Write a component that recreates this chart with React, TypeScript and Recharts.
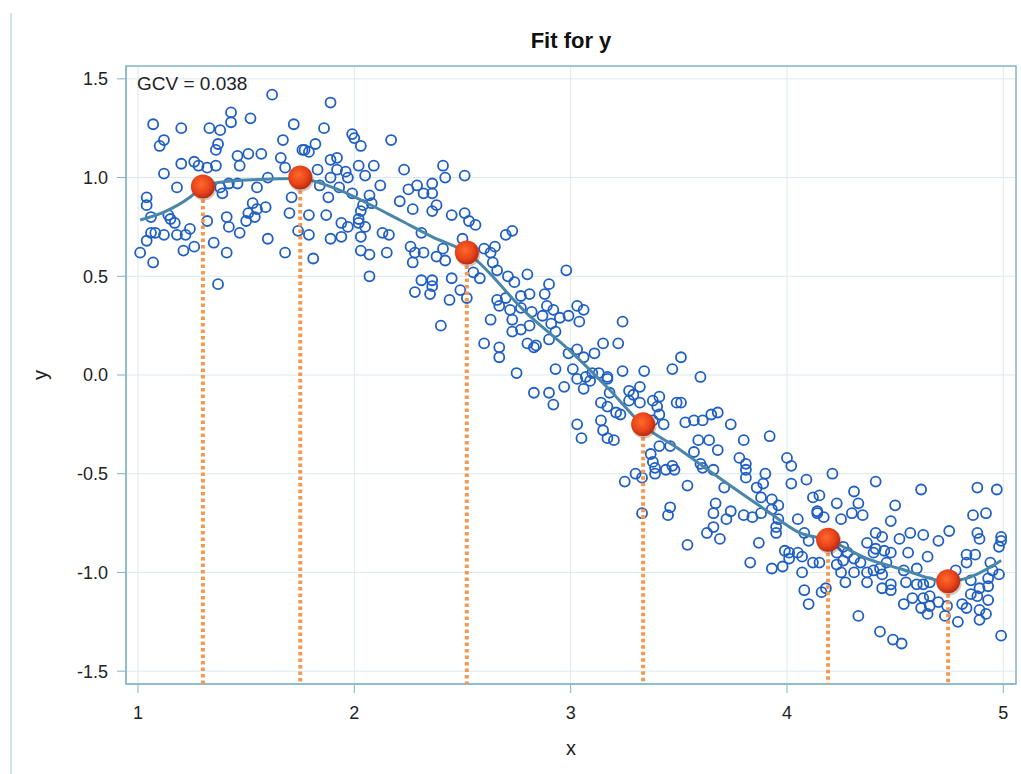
import {
  ScatterChart,
  Scatter,
  XAxis,
  YAxis,
  CartesianGrid,
  ReferenceArea,
  Label,
} from 'recharts';

// observed points (x, y)
const observed: [number, number][] = [
  [1.62, 1.42], [1.43, 1.33], [1.43, 1.28], [1.52, 1.30], [1.72, 1.27], [1.07, 1.27], [1.20, 1.25], [1.33, 1.25],
  [1.38, 1.24], [1.67, 1.19], [1.12, 1.19], [1.10, 1.16], [1.37, 1.17], [1.36, 1.14], [1.76, 1.14], [1.46, 1.11],
  [1.51, 1.12], [1.57, 1.12], [1.66, 1.10], [1.20, 1.07], [1.26, 1.08], [1.28, 1.06], [1.32, 1.05], [1.36, 1.06],
  [1.47, 1.06], [1.68, 1.05], [1.12, 1.02], [1.60, 1.00], [1.18, 0.95], [1.38, 0.95], [1.42, 0.97], [1.46, 0.97],
  [1.55, 0.95], [1.39, 0.92], [1.71, 0.90], [1.04, 0.90], [1.04, 0.86], [1.53, 0.87], [1.59, 0.85], [1.55, 0.84],
  [1.51, 0.82], [1.14, 0.81], [1.06, 0.80], [1.70, 0.82], [1.41, 0.80], [1.54, 0.80], [1.15, 0.79], [1.17, 0.77],
  [1.42, 0.75], [1.50, 0.78], [1.24, 0.74], [1.47, 0.72], [1.06, 0.72], [1.08, 0.72], [1.12, 0.71], [1.18, 0.71],
  [1.22, 0.71], [1.04, 0.68], [1.32, 0.78], [1.60, 0.69], [1.74, 0.73], [1.35, 0.67], [1.26, 0.65], [1.21, 0.63],
  [1.41, 0.62], [1.68, 0.62], [1.01, 0.62], [1.07, 0.57], [1.37, 0.46],
  [1.89, 1.38], [1.86, 1.25], [1.99, 1.22], [2.00, 1.20], [2.03, 1.16], [2.17, 1.19], [1.77, 1.14], [1.82, 1.17],
  [1.79, 1.13], [1.89, 1.09], [1.92, 1.10], [1.83, 1.04], [1.92, 1.04], [1.96, 1.03], [2.02, 1.06], [2.09, 1.06],
  [2.23, 1.04], [2.41, 1.06], [2.42, 1.00], [2.51, 1.01], [1.89, 1.00], [1.97, 1.00], [2.05, 1.01], [1.84, 0.96],
  [1.93, 0.95], [2.12, 0.96], [2.25, 0.94], [2.29, 0.96], [2.32, 0.92], [2.36, 0.97], [2.36, 0.92], [1.88, 0.90],
  [1.99, 0.92], [2.07, 0.91], [2.21, 0.88], [2.38, 0.86], [2.27, 0.84], [2.36, 0.83], [2.04, 0.86], [2.08, 0.87],
  [2.03, 0.83], [1.79, 0.81], [1.87, 0.81], [2.02, 0.79], [2.45, 0.81], [2.51, 0.82], [2.53, 0.78], [2.56, 0.76],
  [1.94, 0.77], [1.97, 0.75], [2.02, 0.77], [2.05, 0.75], [1.79, 0.71], [1.89, 0.69], [1.94, 0.70], [2.03, 0.70],
  [2.13, 0.72], [2.16, 0.71], [2.31, 0.72], [1.81, 0.59], [2.03, 0.63], [2.07, 0.61], [2.15, 0.62], [2.26, 0.65],
  [2.28, 0.62], [2.32, 0.62], [2.27, 0.57], [2.38, 0.60], [2.42, 0.58], [2.41, 0.64], [2.07, 0.50], [2.31, 0.48],
  [2.36, 0.48], [2.36, 0.45], [2.45, 0.49], [2.28, 0.42], [2.35, 0.41], [2.49, 0.43], [2.55, 0.52], [2.52, 0.39],
  [2.44, 0.38], [2.40, 0.25],
  [2.70, 0.71], [2.73, 0.73], [2.50, 0.69], [2.60, 0.64], [2.63, 0.62], [2.65, 0.65], [2.64, 0.57], [2.66, 0.53],
  [2.58, 0.49], [2.71, 0.50], [2.74, 0.47], [2.80, 0.51], [2.98, 0.53], [2.90, 0.46], [2.88, 0.41], [2.66, 0.38],
  [2.70, 0.39], [2.77, 0.40], [2.81, 0.41], [2.67, 0.35], [2.72, 0.33], [2.77, 0.34], [2.82, 0.32], [2.89, 0.35],
  [2.92, 0.33], [3.03, 0.35], [3.06, 0.33], [2.63, 0.28], [2.73, 0.28], [2.87, 0.30], [2.91, 0.26], [2.95, 0.29],
  [2.99, 0.30], [3.04, 0.27], [3.24, 0.27], [2.73, 0.22], [2.77, 0.23], [2.81, 0.25], [2.93, 0.22], [2.60, 0.16],
  [2.80, 0.16], [2.84, 0.15], [2.83, 0.14], [2.90, 0.18], [2.67, 0.14], [2.67, 0.09], [2.99, 0.11], [3.03, 0.13],
  [3.06, 0.09], [3.11, 0.11], [3.15, 0.16], [3.22, 0.16], [2.75, 0.01], [2.93, 0.03], [3.01, 0.03], [3.03, -0.02],
  [3.07, -0.01], [3.10, 0.01], [3.13, 0.01], [3.17, -0.01], [3.24, 0.02], [3.34, 0.02], [3.47, 0.03], [3.09, -0.03],
  [3.17, -0.02], [2.83, -0.09], [2.90, -0.09], [2.97, -0.06], [3.06, -0.07], [3.18, -0.09], [3.27, -0.08], [3.32, -0.06],
  [3.41, -0.11], [2.92, -0.15], [3.14, -0.14], [3.17, -0.16], [3.21, -0.19], [3.27, -0.13], [3.29, -0.10], [3.32, -0.14],
  [3.38, -0.13], [3.40, -0.16], [3.49, -0.14], [3.23, -0.20], [3.14, -0.23], [3.03, -0.25], [3.15, -0.28], [3.17, -0.32],
  [3.20, -0.33], [3.05, -0.32], [3.38, -0.23], [3.41, -0.20], [3.43, -0.25], [3.41, -0.36], [3.46, -0.36], [3.37, -0.40],
  [3.51, 0.09], [3.60, -0.01], [3.51, -0.14], [3.53, -0.24], [3.57, -0.23], [3.61, -0.23], [3.65, -0.20], [3.68, -0.19],
  [3.74, -0.25], [3.92, -0.31], [3.59, -0.33], [3.64, -0.33], [3.68, -0.38], [3.80, -0.33], [3.57, -0.39], [3.78, -0.42],
  [3.81, -0.45], [3.81, -0.48], [3.81, -0.52], [3.90, -0.50], [3.89, -0.55], [3.86, -0.57], [3.60, -0.45], [3.61, -0.47],
  [3.66, -0.48], [3.71, -0.57], [3.54, -0.56], [3.67, -0.65], [3.66, -0.70], [3.44, -0.48], [3.47, -0.46], [3.48, -0.48],
  [3.39, -0.47], [3.38, -0.44], [3.39, -0.50], [3.30, -0.50], [3.33, -0.52], [3.25, -0.54], [3.46, -0.67], [3.45, -0.71],
  [3.74, -0.69], [3.80, -0.71], [3.88, -0.70],
  [4.00, -0.42], [4.02, -0.46], [4.02, -0.55], [4.09, -0.53], [4.21, -0.50], [4.41, -0.54], [4.62, -0.58], [4.88, -0.57],
  [4.97, -0.58], [4.12, -0.62], [4.15, -0.61], [4.23, -0.65], [4.31, -0.59], [4.33, -0.65], [4.50, -0.66], [4.14, -0.69],
  [3.88, -0.62], [3.93, -0.63], [3.96, -0.66],
  [3.33, -0.70], [3.72, -0.73], [3.54, -0.86],
  [3.84, -0.72], [3.93, -0.68], [3.96, -0.73], [3.95, -0.77], [3.95, -0.80], [3.63, -0.80], [3.66, -0.77], [3.69, -0.83],
  [3.87, -0.85], [3.83, -0.95], [3.93, -0.98], [3.98, -0.97], [3.99, -0.89], [4.01, -0.90], [4.01, -0.93], [4.05, -0.90],
  [4.07, -0.92], [4.07, -1.00], [4.08, -1.09], [4.10, -1.16], [4.12, -0.95], [4.15, -0.95], [4.16, -1.10], [4.18, -1.08],
  [4.05, -0.73], [4.08, -0.80], [4.10, -0.84], [4.14, -0.70], [4.17, -0.72], [4.25, -0.73], [4.30, -0.70], [4.35, -0.71],
  [4.23, -0.90], [4.26, -0.94], [4.28, -0.90], [4.26, -0.87], [4.31, -0.93], [4.34, -0.95], [4.23, -0.96], [4.25, -1.00],
  [4.27, -1.05], [4.31, -1.00], [4.37, -0.85], [4.41, -0.80], [4.44, -0.82], [4.41, -0.88], [4.45, -0.89], [4.48, -0.90],
  [4.40, -0.90], [4.37, -1.00], [4.40, -0.99], [4.43, -0.98], [4.44, -1.01], [4.46, -0.95], [4.37, -1.05], [4.44, -1.08],
  [4.48, -1.06], [4.48, -1.09], [4.33, -1.22], [4.43, -1.30], [4.49, -1.34], [4.53, -1.36], [4.48, -0.74], [4.52, -0.83],
  [4.57, -0.80], [4.56, -0.90], [4.63, -0.81], [4.70, -0.84], [4.75, -0.79], [4.65, -0.92], [4.54, -0.99], [4.60, -0.98],
  [4.55, -1.05], [4.60, -1.06], [4.63, -1.06], [4.66, -1.05], [4.54, -1.16], [4.58, -1.13], [4.62, -1.18], [4.63, -1.13],
  [4.66, -1.12], [4.66, -1.17], [4.65, -1.21], [4.70, -1.15], [4.73, -1.22], [4.74, -1.17], [4.79, -1.25], [4.78, -0.99],
  [4.81, -1.16], [4.83, -1.18], [4.85, -1.04], [4.83, -0.95], [4.83, -0.91], [4.87, -0.91], [4.88, -0.80], [4.89, -0.83],
  [4.86, -0.71], [4.92, -0.70], [4.88, -1.12], [4.89, -1.08], [4.89, -1.19], [4.89, -1.24], [4.93, -1.14], [4.92, -1.21],
  [4.93, -1.07], [4.93, -1.03], [4.95, -0.99], [4.94, -0.95], [4.98, -1.01], [4.99, -0.84], [4.98, -0.87], [4.99, -0.82],
  [4.99, -1.32], [4.85, -1.11],
];

// fitted curve
const fitX = [1.01, 1.13, 1.24, 1.29, 1.37, 1.56, 1.74, 1.9, 2.06, 2.21, 2.36, 2.52, 2.8, 3.0, 3.18, 3.33, 3.5, 3.66, 3.91, 4.06, 4.19, 4.37, 4.52, 4.74, 4.83, 4.99];
const fitY = [0.785, 0.83, 0.9, 0.945, 0.975, 0.99, 0.995, 0.95, 0.87, 0.785, 0.7, 0.62, 0.31, 0.12, -0.075, -0.25, -0.375, -0.5, -0.69, -0.8, -0.835, -0.93, -0.98, -1.045, -1.03, -0.94];

// knots
const knotX = [1.3, 1.75, 2.52, 3.335, 4.19, 4.745];
const knotY = [0.955, 1.0, 0.62, -0.25, -0.835, -1.045];

const xTicks = [1, 2, 3, 4, 5];
const yTicks = [-1.5, -1.0, -0.5, 0.0, 0.5, 1.0, 1.5];
const gcvText = 'GCV = 0.038';

const xDomain = [0.9445, 5.0587];
const yDomain = [-1.565, 1.565];

const points = observed.map(([x, y]) => ({ x, y }));
const fitCurve = fitX.map((x, i) => ({ x, y: fitY[i] }));
const knots = knotX.map((x, i) => ({ x, y: knotY[i] }));
const drops = knots.map((k) => [k, { x: k.x, y: yDomain[0] }]);

const FONT = '"Liberation Sans", Arial, sans-serif';
const axisColor = '#80b2c8';

const OpenCircle = (props: any) => (
  <circle cx={props.cx} cy={props.cy} r={5} fill="none" stroke="#1f5fc4" strokeWidth={1.8} />
);

const KnotDot = (props: any) => (
  <g>
    <defs>
      <radialGradient id="knotFill" cx="42%" cy="40%" r="60%">
        <stop offset="0%" stopColor="#ff6a2a" />
        <stop offset="65%" stopColor="#e8421a" />
        <stop offset="100%" stopColor="#b52c12" />
      </radialGradient>
    </defs>
    <circle cx={props.cx + 1} cy={props.cy + 1.5} r={12.5} fill="#7a3a20" opacity={0.3} />
    <circle cx={props.cx} cy={props.cy} r={12} fill="url(#knotFill)" />
  </g>
);

const Nothing = () => <g />;

const App = () => {
  return (
    <div style={{ position: 'fixed', left: 0, top: 0, width: 1021, height: 774, background: '#fff', fontFamily: FONT }}>
      <div style={{ position: 'absolute', left: 10, top: 13, width: 2, height: 761, background: '#cfe1ea' }} />
      <ScatterChart width={1021} height={774} margin={{ top: 66, right: 5, bottom: 0, left: 0 }}>
        <CartesianGrid stroke="#dbe9f0" strokeWidth={1} />
        <XAxis
          type="number"
          dataKey="x"
          domain={xDomain}
          ticks={xTicks}
          allowDataOverflow
          height={90}
          stroke={axisColor}
          tickSize={9}
          tickMargin={13}
          tick={{ fill: '#222', fontSize: 18, fontFamily: FONT }}
        >
          <Label value="x" position="insideBottom" offset={19} style={{ fill: '#222', fontSize: 20, fontFamily: FONT }} />
        </XAxis>
        <YAxis
          type="number"
          dataKey="y"
          domain={yDomain}
          ticks={yTicks}
          allowDataOverflow
          width={126}
          stroke={axisColor}
          tickSize={9}
          tickMargin={9}
          tickFormatter={(v: number) => v.toFixed(1)}
          tick={{ fill: '#222', fontSize: 18, fontFamily: FONT }}
        >
          <Label
            value="y"
            angle={-90}
            position="insideLeft"
            offset={40}
            style={{ fill: '#222', fontSize: 20, fontFamily: FONT, textAnchor: 'middle' }}
          />
        </YAxis>
        <ReferenceArea
          x1={xDomain[0]}
          x2={xDomain[1]}
          y1={yDomain[0]}
          y2={yDomain[1]}
          fill="none"
          stroke="#86b6cb"
          strokeWidth={1.5}
        />
        <Scatter data={points} shape={OpenCircle} isAnimationActive={false} />
        <Scatter
          data={fitCurve}
          line={{ stroke: '#4a86a8', strokeWidth: 3 }}
          lineJointType="monotoneX"
          shape={Nothing}
          isAnimationActive={false}
        />
        {drops.map((seg, i) => (
          <Scatter
            key={`drop-${i}`}
            data={seg}
            line={{ stroke: '#f59850', strokeWidth: 4, strokeDasharray: '3.5 3' }}
            shape={Nothing}
            isAnimationActive={false}
          />
        ))}
        <Scatter data={knots} shape={KnotDot} isAnimationActive={false} />
      </ScatterChart>
      <div
        style={{
          position: 'absolute',
          left: 421,
          top: 30,
          width: 300,
          textAlign: 'center',
          fontSize: 22,
          lineHeight: '22px',
          fontWeight: 'bold',
          color: '#111',
        }}
      >
        Fit for y
      </div>
      <div style={{ position: 'absolute', left: 137, top: 74, fontSize: 19, lineHeight: '19px', color: '#222' }}>
        {gcvText}
      </div>
    </div>
  );
};

export default App;
